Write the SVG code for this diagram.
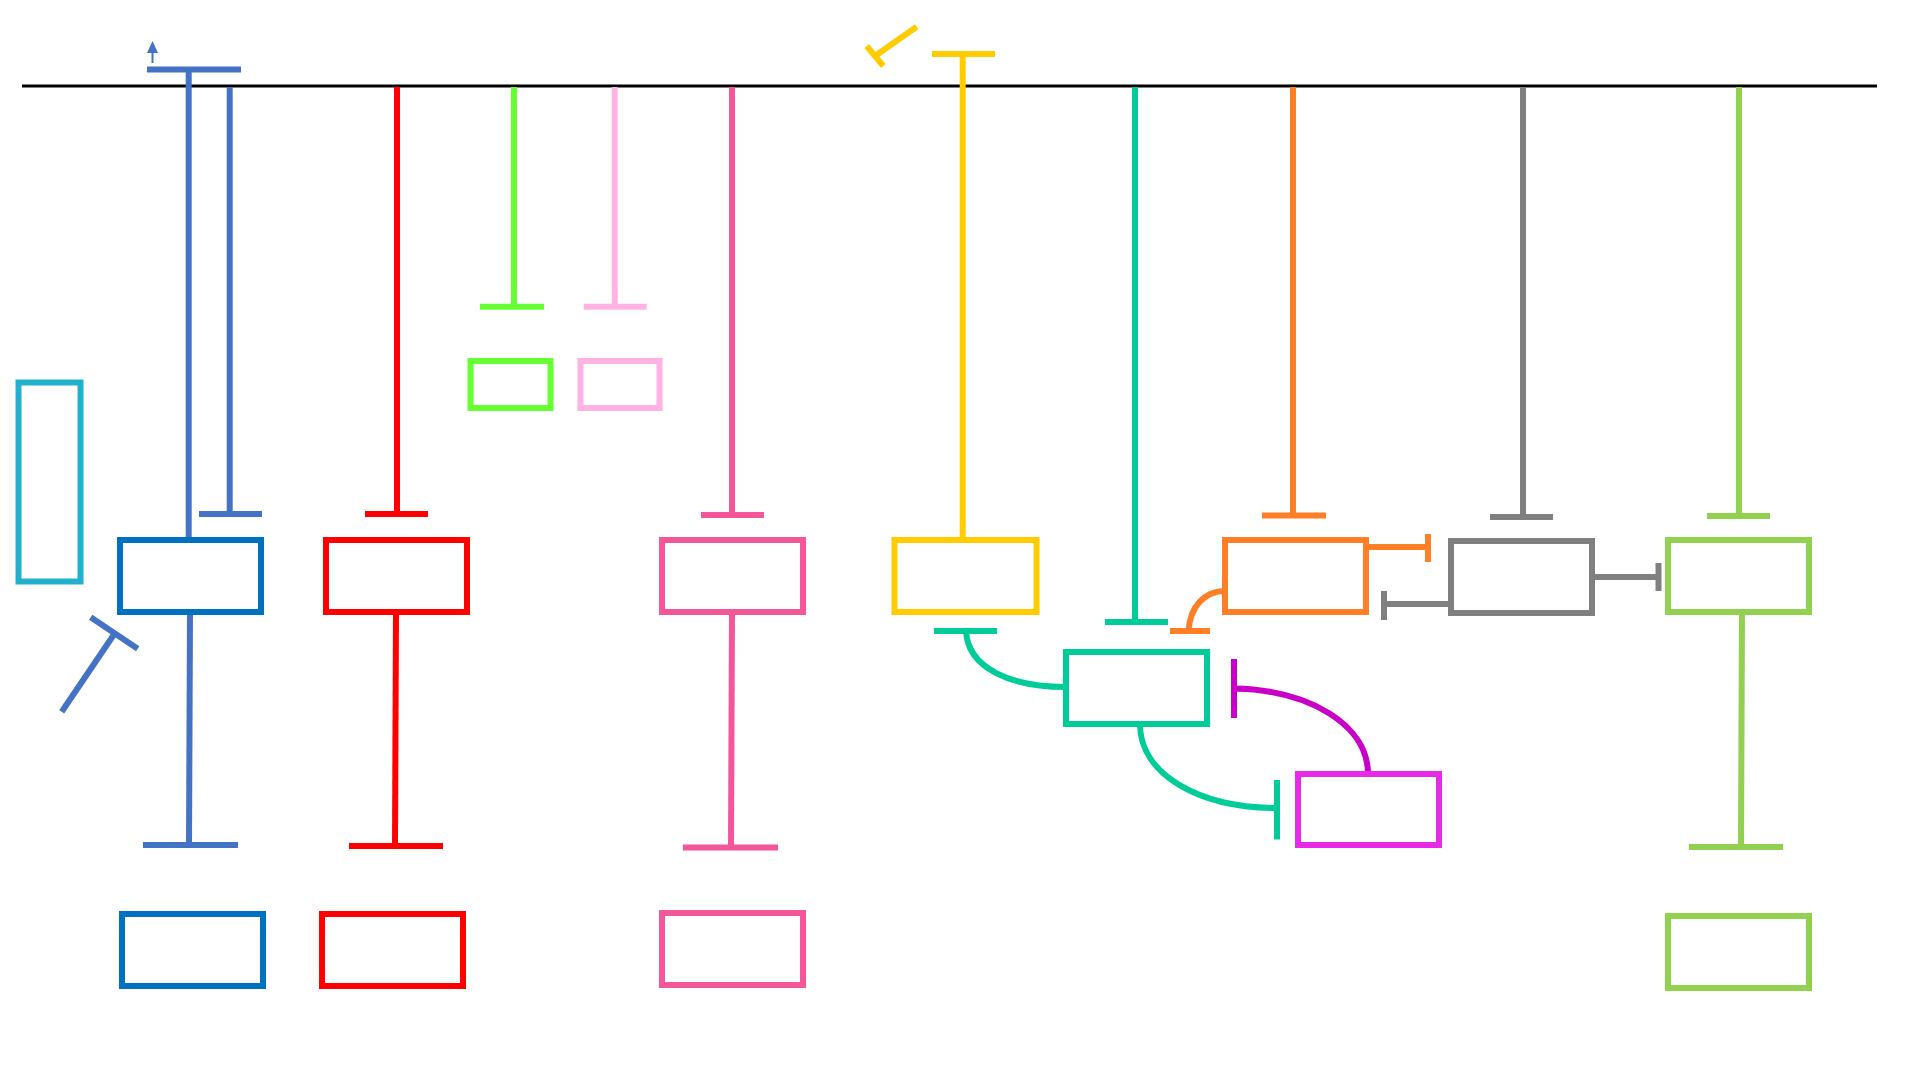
<svg xmlns="http://www.w3.org/2000/svg" width="1920" height="1080" viewBox="0 0 1920 1080">
<style>
.box{fill:#fff;stroke-width:6}
.ln{fill:none;stroke-width:6;stroke-linecap:butt}
.blue{stroke:#4472C4}
.red{stroke:#FF0000}
.lg{stroke:#66FF33}
.lp{stroke:#FFB3E3}
.pink{stroke:#F4569A}
.yel{stroke:#FFCC00}
.teal{stroke:#00CC99}
.org{stroke:#FF7F27}
.gray{stroke:#808080}
.grn{stroke:#92D050}
.mag{stroke:#C800C8}
</style>
<rect width="1920" height="1080" fill="#fff"/>
<g id="membrane">
<line x1="22" y1="86" x2="1877" y2="86" stroke="#000" stroke-width="3"/>
</g>
<g id="connectors">
<!-- blue -->
<line class="ln blue" x1="147" y1="69.5" x2="241" y2="69.5"/>
<line class="ln blue" x1="188.7" y1="69" x2="188.7" y2="540"/>
<line x1="152.5" y1="63" x2="152.5" y2="51" stroke="#4472C4" stroke-width="2"/>
<polygon points="152.5,41 147,53 158,53" fill="#4472C4"/>
<line class="ln blue" x1="229.7" y1="87" x2="229.7" y2="514"/>
<line class="ln blue" x1="199" y1="514" x2="262" y2="514"/>
<line class="ln blue" x1="190" y1="612" x2="189" y2="845"/>
<line class="ln blue" x1="143" y1="845" x2="238" y2="845"/>
<line class="ln blue" x1="61.7" y1="711.7" x2="114.3" y2="634"/>
<line class="ln blue" x1="90.7" y1="617.3" x2="137.7" y2="648.7"/>
<!-- red -->
<line class="ln red" x1="397" y1="87" x2="397" y2="514"/>
<line class="ln red" x1="365" y1="514" x2="428" y2="514"/>
<line class="ln red" x1="396" y1="612" x2="395" y2="846"/>
<line class="ln red" x1="349" y1="846" x2="443" y2="846"/>
<!-- light green / light pink -->
<line class="ln lg" x1="514" y1="87" x2="514" y2="306.7"/>
<line class="ln lg" x1="480" y1="306.7" x2="544" y2="306.7"/>
<line class="ln lp" x1="614.7" y1="87" x2="614.7" y2="306.7"/>
<line class="ln lp" x1="583.7" y1="306.7" x2="646.7" y2="306.7"/>
<!-- pink -->
<line class="ln pink" x1="732" y1="87" x2="732" y2="515"/>
<line class="ln pink" x1="701" y1="515" x2="764" y2="515"/>
<line class="ln pink" x1="732" y1="612" x2="731" y2="847.5"/>
<line class="ln pink" x1="683" y1="847.5" x2="778" y2="847.5"/>
<!-- yellow -->
<line class="ln yel" x1="932" y1="54" x2="995" y2="54"/>
<line class="ln yel" x1="962.7" y1="54" x2="962.7" y2="540"/>
<line class="ln yel" x1="916.7" y1="26.7" x2="875" y2="56"/>
<line class="ln yel" x1="866.7" y1="46" x2="883.3" y2="66"/>
<!-- teal -->
<line class="ln teal" x1="1135" y1="87" x2="1135" y2="622"/>
<line class="ln teal" x1="1105" y1="622" x2="1168" y2="622"/>
<line class="ln teal" x1="934" y1="631" x2="997" y2="631"/>
<path class="ln teal" d="M966,631 C968,668 1010,687 1066,687"/>
<path class="ln teal" d="M1140,724 C1140,775 1200,808 1277,808"/>
<line class="ln teal" x1="1277" y1="780" x2="1277" y2="839.5"/>
<!-- orange -->
<line class="ln org" x1="1293" y1="87" x2="1293" y2="515.5"/>
<line class="ln org" x1="1262" y1="515.5" x2="1326" y2="515.5"/>
<line class="ln org" x1="1170" y1="631" x2="1210" y2="631"/>
<path class="ln org" d="M1188.5,631 C1190,606 1205,591 1225,591"/>
<line class="ln org" x1="1366" y1="547" x2="1428" y2="547"/>
<line class="ln org" x1="1428" y1="534" x2="1428" y2="562"/>
<!-- gray -->
<line class="ln gray" x1="1523" y1="87" x2="1523" y2="517"/>
<line class="ln gray" x1="1490" y1="517" x2="1553" y2="517"/>
<line class="ln gray" x1="1451" y1="604" x2="1384" y2="604"/>
<line class="ln gray" x1="1384" y1="591" x2="1384" y2="620"/>
<line class="ln gray" x1="1592" y1="577" x2="1658.5" y2="577"/>
<line class="ln gray" x1="1658.5" y1="563" x2="1658.5" y2="591"/>
<!-- green -->
<line class="ln grn" x1="1739" y1="87" x2="1739" y2="516"/>
<line class="ln grn" x1="1707" y1="516" x2="1770" y2="516"/>
<line class="ln grn" x1="1742" y1="612" x2="1741" y2="847"/>
<line class="ln grn" x1="1689" y1="847" x2="1783" y2="847"/>
<!-- magenta -->
<path class="ln mag" d="M1234,688.5 C1310,690 1368,725 1368,774"/>
<line class="ln mag" x1="1234" y1="659" x2="1234" y2="718"/>
</g>
<g id="cyan-node"><rect class="box" x="18.5" y="382.5" width="62" height="199" stroke="#21B1CE" stroke-width="5.5"/></g>
<g id="blue-node"><rect class="box" x="120" y="540" width="141" height="72" stroke="#0070C0"/></g>
<g id="blue-bottom-node"><rect class="box" x="122" y="914" width="141" height="72" stroke="#0070C0"/></g>
<g id="red-node"><rect class="box" x="326" y="540" width="141" height="72" stroke="#FF0000"/></g>
<g id="red-bottom-node"><rect class="box" x="322" y="914" width="141" height="72" stroke="#FF0000"/></g>
<g id="lightgreen-node"><rect class="box" x="470.5" y="361" width="80" height="47" stroke="#66FF33" stroke-width="5"/></g>
<g id="lightpink-node"><rect class="box" x="580.5" y="361" width="79" height="47" stroke="#FFB3E3" stroke-width="5"/></g>
<g id="pink-node"><rect class="box" x="662" y="540" width="141" height="72" stroke="#F4569A"/></g>
<g id="pink-bottom-node"><rect class="box" x="662" y="913" width="141" height="72" stroke="#F4569A"/></g>
<g id="yellow-node"><rect class="box" x="894.5" y="540" width="142" height="72" stroke="#FFCC00" stroke-width="5.5"/></g>
<g id="teal-node"><rect class="box" x="1066" y="652" width="141" height="72" stroke="#00CC99"/></g>
<g id="orange-node"><rect class="box" x="1225" y="540" width="141" height="72" stroke="#FF7F27"/></g>
<g id="gray-node"><rect class="box" x="1451" y="541" width="141" height="72" stroke="#808080"/></g>
<g id="green-node"><rect class="box" x="1668" y="540" width="141" height="72" stroke="#92D050"/></g>
<g id="green-bottom-node"><rect class="box" x="1668" y="916" width="141" height="72" stroke="#92D050"/></g>
<g id="magenta-node"><rect class="box" x="1298" y="774" width="141" height="71" stroke="#E829E8"/></g>
</svg>
